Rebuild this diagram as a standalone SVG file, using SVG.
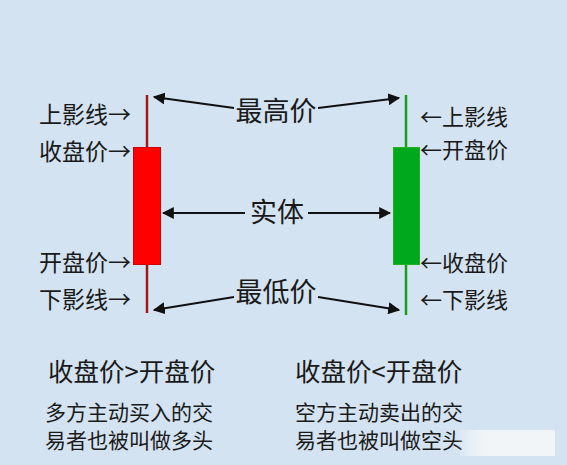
<svg xmlns="http://www.w3.org/2000/svg" width="567" height="465" viewBox="0 0 567 465">
<defs>
<style>
text{font-family:"Noto Sans CJK SC","Noto Sans",sans-serif;fill:#1a1a1a}
.lab{font-size:23px}
.rlab{font-size:22px}
.mid{font-size:27px}
.big{font-size:25.5px}
.desc{font-size:21px}
.con{stroke:#111;stroke-width:2;fill:none}
</style>
<marker id="ah" viewBox="0 0 10 10" refX="9" refY="5" markerWidth="6" markerHeight="6" orient="auto-start-reverse" markerUnits="strokeWidth">
<path d="M0,0 L10,5 L0,10 z" fill="#111"/>
</marker>
<linearGradient id="wm" x1="0" x2="1" y1="0" y2="0">
<stop offset="0" stop-color="#ffffff" stop-opacity="0"/>
<stop offset="0.3" stop-color="#f4f6f8" stop-opacity="0.9"/>
<stop offset="1" stop-color="#f4f6f8" stop-opacity="0.9"/>
</linearGradient>
</defs>
<rect width="567" height="465" fill="#d4e3f1"/>

<g id="red-candle">
<line x1="147" y1="95" x2="147" y2="313" stroke="#a01818" stroke-width="2.5"/>
<rect x="133.5" y="147.5" width="27" height="117" fill="#ff0000" stroke="#d00000" stroke-width="1"/>
</g>
<g id="green-candle">
<line x1="406" y1="95" x2="406" y2="315" stroke="#14a014" stroke-width="2.5"/>
<rect x="393.5" y="147.5" width="26" height="117" fill="#00a81e" stroke="#22b022" stroke-width="1"/>
</g>

<g id="left-labels" text-anchor="end">
<text x="131" y="123" class="lab">上影线→</text>
<text x="131" y="160" class="lab">收盘价→</text>
<text x="131" y="271" class="lab">开盘价→</text>
<text x="131" y="308" class="lab">下影线→</text>
</g>
<g id="right-labels">
<text x="420" y="125" class="rlab">←上影线</text>
<text x="420" y="158" class="rlab">←开盘价</text>
<text x="420" y="271" class="rlab">←收盘价</text>
<text x="420" y="308" class="rlab">←下影线</text>
</g>

<g id="connectors">
<line class="con" x1="234" y1="108" x2="154" y2="97" marker-end="url(#ah)"/>
<line class="con" x1="318" y1="108" x2="399" y2="98" marker-end="url(#ah)"/>
<line class="con" x1="245" y1="213" x2="163" y2="213" marker-end="url(#ah)"/>
<line class="con" x1="308" y1="213" x2="390" y2="213" marker-end="url(#ah)"/>
<line class="con" x1="234" y1="297" x2="154" y2="310" marker-end="url(#ah)"/>
<line class="con" x1="318" y1="297" x2="399" y2="310" marker-end="url(#ah)"/>
</g>

<g id="label-high"><text x="276" y="121" class="mid" text-anchor="middle">最高价</text></g>
<g id="label-body"><text x="277" y="222" class="mid" text-anchor="middle">实体</text></g>
<g id="label-low"><text x="276" y="302" class="mid" text-anchor="middle">最低价</text></g>

<g id="bull-text">
<text x="48" y="381" class="big">收盘价&gt;开盘价</text>
<text x="45" y="420" class="desc">多方主动买入的交</text>
<text x="45" y="448" class="desc">易者也被叫做多头</text>
</g>
<g id="bear-text">
<text x="295" y="381" class="big">收盘价&lt;开盘价</text>
<text x="295" y="420" class="desc">空方主动卖出的交</text>
<text x="295" y="448" class="desc">易者也被叫做空头</text>
</g>
<rect x="455" y="430" width="100" height="26" fill="url(#wm)"/>
</svg>
